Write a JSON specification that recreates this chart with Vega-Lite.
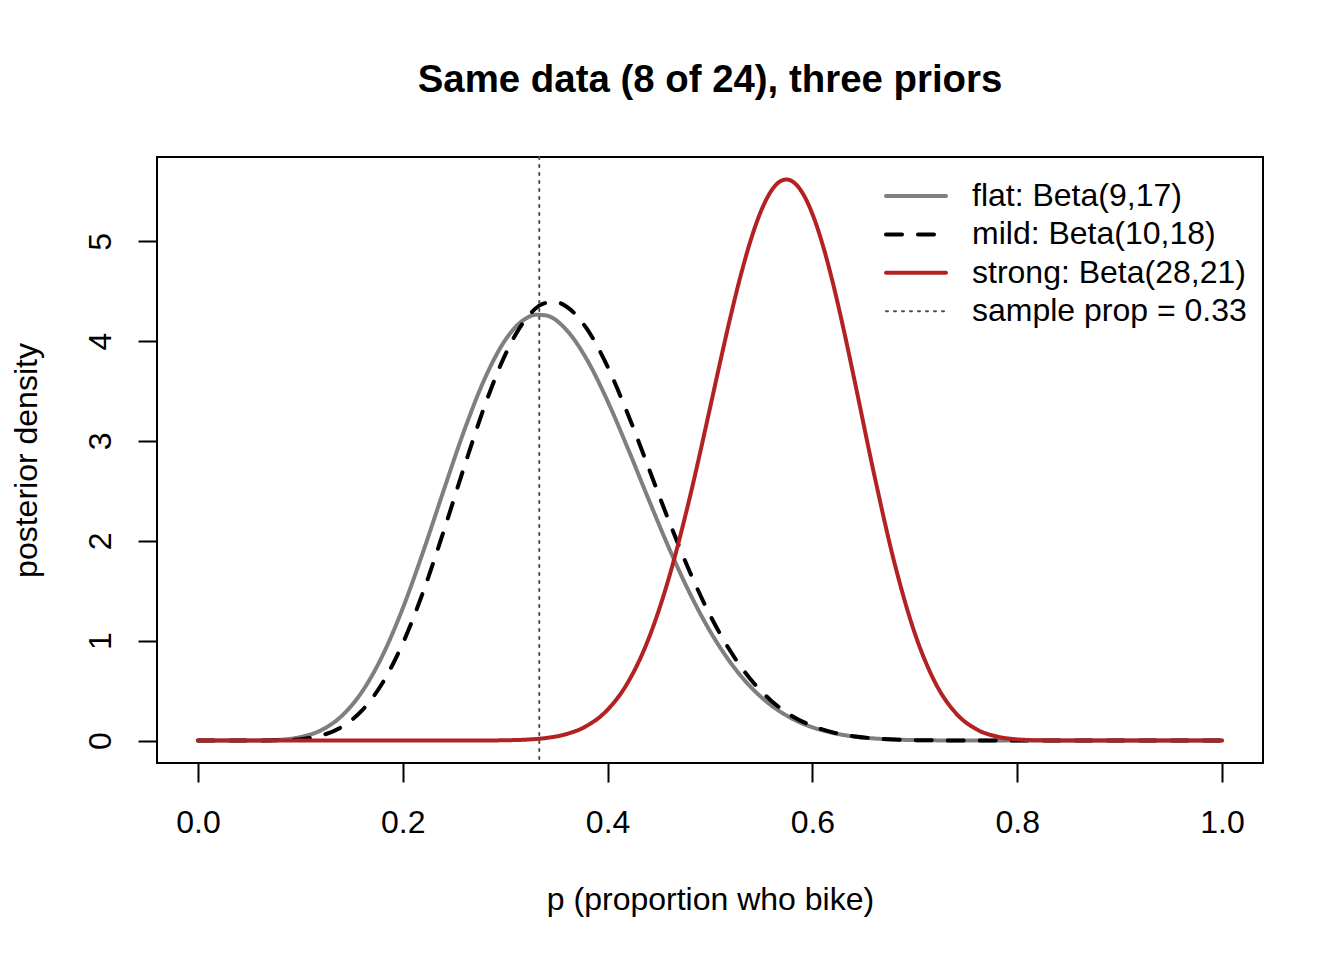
{
  "$schema": "https://vega.github.io/schema/vega-lite/v6.json",
  "width": 1106,
  "height": 606,
  "autosize": {"type": "none"},
  "padding": {"left": 157, "top": 157, "right": 81, "bottom": 197},
  "background": "white",
  "title": {"text": "Same data (8 of 24), three priors", "fontSize": 38.4, "fontWeight": "bold", "font": "Liberation Sans", "color": "black", "anchor": "middle", "frame": "group", "baseline": "alphabetic", "offset": 26},
  "config": {"view": {"stroke": "black", "strokeWidth": 2}, "font": "Liberation Sans"},
  "data": {"values": [
    {"p": 0, "prior": "flat: Beta(9,17)", "d": 0},
    {"p": 0.02, "prior": "flat: Beta(9,17)", "d": 0},
    {"p": 0.04, "prior": "flat: Beta(9,17)", "d": 0.0001},
    {"p": 0.06, "prior": "flat: Beta(9,17)", "d": 0.0012},
    {"p": 0.08, "prior": "flat: Beta(9,17)", "d": 0.0081},
    {"p": 0.10, "prior": "flat: Beta(9,17)", "d": 0.0341},
    {"p": 0.12, "prior": "flat: Beta(9,17)", "d": 0.1023},
    {"p": 0.14, "prior": "flat: Beta(9,17)", "d": 0.2429},
    {"p": 0.16, "prior": "flat: Beta(9,17)", "d": 0.4852},
    {"p": 0.18, "prior": "flat: Beta(9,17)", "d": 0.8467},
    {"p": 0.20, "prior": "flat: Beta(9,17)", "d": 1.3249},
    {"p": 0.22, "prior": "flat: Beta(9,17)", "d": 1.8941},
    {"p": 0.24, "prior": "flat: Beta(9,17)", "d": 2.5073},
    {"p": 0.26, "prior": "flat: Beta(9,17)", "d": 3.1046},
    {"p": 0.28, "prior": "flat: Beta(9,17)", "d": 3.6232},
    {"p": 0.30, "prior": "flat: Beta(9,17)", "d": 4.0091},
    {"p": 0.32, "prior": "flat: Beta(9,17)", "d": 4.2252},
    {"p": 0.33, "prior": "flat: Beta(9,17)", "d": 4.2639},
    {"p": 0.34, "prior": "flat: Beta(9,17)", "d": 4.2563},
    {"p": 0.36, "prior": "flat: Beta(9,17)", "d": 4.1097},
    {"p": 0.38, "prior": "flat: Beta(9,17)", "d": 3.8110},
    {"p": 0.40, "prior": "flat: Beta(9,17)", "d": 3.3994},
    {"p": 0.42, "prior": "flat: Beta(9,17)", "d": 2.9198},
    {"p": 0.44, "prior": "flat: Beta(9,17)", "d": 2.4162},
    {"p": 0.46, "prior": "flat: Beta(9,17)", "d": 1.9269},
    {"p": 0.48, "prior": "flat: Beta(9,17)", "d": 1.4808},
    {"p": 0.50, "prior": "flat: Beta(9,17)", "d": 1.0959},
    {"p": 0.52, "prior": "flat: Beta(9,17)", "d": 0.7805},
    {"p": 0.54, "prior": "flat: Beta(9,17)", "d": 0.5343},
    {"p": 0.56, "prior": "flat: Beta(9,17)", "d": 0.3510},
    {"p": 0.58, "prior": "flat: Beta(9,17)", "d": 0.2208},
    {"p": 0.60, "prior": "flat: Beta(9,17)", "d": 0.1327},
    {"p": 0.62, "prior": "flat: Beta(9,17)", "d": 0.0759},
    {"p": 0.64, "prior": "flat: Beta(9,17)", "d": 0.0412},
    {"p": 0.66, "prior": "flat: Beta(9,17)", "d": 0.0211},
    {"p": 0.68, "prior": "flat: Beta(9,17)", "d": 0.0102},
    {"p": 0.70, "prior": "flat: Beta(9,17)", "d": 0.0046},
    {"p": 0.72, "prior": "flat: Beta(9,17)", "d": 0.0019},
    {"p": 0.74, "prior": "flat: Beta(9,17)", "d": 0.0007},
    {"p": 0.76, "prior": "flat: Beta(9,17)", "d": 0.0002},
    {"p": 0.80, "prior": "flat: Beta(9,17)", "d": 0},
    {"p": 1.0, "prior": "flat: Beta(9,17)", "d": 0},
    {"p": 0, "prior": "mild: Beta(10,18)", "d": 0},
    {"p": 0.02, "prior": "mild: Beta(10,18)", "d": 0},
    {"p": 0.04, "prior": "mild: Beta(10,18)", "d": 0},
    {"p": 0.06, "prior": "mild: Beta(10,18)", "d": 0.0003},
    {"p": 0.08, "prior": "mild: Beta(10,18)", "d": 0.0027},
    {"p": 0.10, "prior": "mild: Beta(10,18)", "d": 0.0141},
    {"p": 0.12, "prior": "mild: Beta(10,18)", "d": 0.0495},
    {"p": 0.14, "prior": "mild: Beta(10,18)", "d": 0.1342},
    {"p": 0.16, "prior": "mild: Beta(10,18)", "d": 0.2992},
    {"p": 0.18, "prior": "mild: Beta(10,18)", "d": 0.5734},
    {"p": 0.20, "prior": "mild: Beta(10,18)", "d": 0.9726},
    {"p": 0.22, "prior": "mild: Beta(10,18)", "d": 1.4913},
    {"p": 0.24, "prior": "mild: Beta(10,18)", "d": 2.0983},
    {"p": 0.26, "prior": "mild: Beta(10,18)", "d": 2.7407},
    {"p": 0.28, "prior": "mild: Beta(10,18)", "d": 3.3514},
    {"p": 0.30, "prior": "mild: Beta(10,18)", "d": 3.8628},
    {"p": 0.32, "prior": "mild: Beta(10,18)", "d": 4.2184},
    {"p": 0.34, "prior": "mild: Beta(10,18)", "d": 4.3822},
    {"p": 0.35, "prior": "mild: Beta(10,18)", "d": 4.3882},
    {"p": 0.36, "prior": "mild: Beta(10,18)", "d": 4.3443},
    {"p": 0.38, "prior": "mild: Beta(10,18)", "d": 4.1196},
    {"p": 0.40, "prior": "mild: Beta(10,18)", "d": 3.7433},
    {"p": 0.42, "prior": "mild: Beta(10,18)", "d": 3.2634},
    {"p": 0.44, "prior": "mild: Beta(10,18)", "d": 2.7317},
    {"p": 0.46, "prior": "mild: Beta(10,18)", "d": 2.1961},
    {"p": 0.48, "prior": "mild: Beta(10,18)", "d": 1.6959},
    {"p": 0.50, "prior": "mild: Beta(10,18)", "d": 1.2571},
    {"p": 0.52, "prior": "mild: Beta(10,18)", "d": 0.8939},
    {"p": 0.54, "prior": "mild: Beta(10,18)", "d": 0.6089},
    {"p": 0.56, "prior": "mild: Beta(10,18)", "d": 0.3968},
    {"p": 0.58, "prior": "mild: Beta(10,18)", "d": 0.2467},
    {"p": 0.60, "prior": "mild: Beta(10,18)", "d": 0.1461},
    {"p": 0.62, "prior": "mild: Beta(10,18)", "d": 0.0820},
    {"p": 0.64, "prior": "mild: Beta(10,18)", "d": 0.0435},
    {"p": 0.66, "prior": "mild: Beta(10,18)", "d": 0.0217},
    {"p": 0.68, "prior": "mild: Beta(10,18)", "d": 0.0101},
    {"p": 0.70, "prior": "mild: Beta(10,18)", "d": 0.0044},
    {"p": 0.72, "prior": "mild: Beta(10,18)", "d": 0.0018},
    {"p": 0.74, "prior": "mild: Beta(10,18)", "d": 0.0006},
    {"p": 0.76, "prior": "mild: Beta(10,18)", "d": 0.0002},
    {"p": 0.80, "prior": "mild: Beta(10,18)", "d": 0},
    {"p": 1.0, "prior": "mild: Beta(10,18)", "d": 0},
    {"p": 0, "prior": "strong: Beta(28,21)", "d": 0},
    {"p": 0.24, "prior": "strong: Beta(28,21)", "d": 0},
    {"p": 0.26, "prior": "strong: Beta(28,21)", "d": 0.0002},
    {"p": 0.28, "prior": "strong: Beta(28,21)", "d": 0.0008},
    {"p": 0.30, "prior": "strong: Beta(28,21)", "d": 0.0029},
    {"p": 0.32, "prior": "strong: Beta(28,21)", "d": 0.0091},
    {"p": 0.34, "prior": "strong: Beta(28,21)", "d": 0.0258},
    {"p": 0.36, "prior": "strong: Beta(28,21)", "d": 0.0653},
    {"p": 0.38, "prior": "strong: Beta(28,21)", "d": 0.1489},
    {"p": 0.40, "prior": "strong: Beta(28,21)", "d": 0.3086},
    {"p": 0.42, "prior": "strong: Beta(28,21)", "d": 0.5849},
    {"p": 0.44, "prior": "strong: Beta(28,21)", "d": 1.0181},
    {"p": 0.46, "prior": "strong: Beta(28,21)", "d": 1.6336},
    {"p": 0.48, "prior": "strong: Beta(28,21)", "d": 2.4232},
    {"p": 0.50, "prior": "strong: Beta(28,21)", "d": 3.3296},
    {"p": 0.51, "prior": "strong: Beta(28,21)", "d": 3.7941},
    {"p": 0.52, "prior": "strong: Beta(28,21)", "d": 4.2435},
    {"p": 0.53, "prior": "strong: Beta(28,21)", "d": 4.6581},
    {"p": 0.54, "prior": "strong: Beta(28,21)", "d": 5.0187},
    {"p": 0.55, "prior": "strong: Beta(28,21)", "d": 5.3069},
    {"p": 0.56, "prior": "strong: Beta(28,21)", "d": 5.5072},
    {"p": 0.57, "prior": "strong: Beta(28,21)", "d": 5.6078},
    {"p": 0.575, "prior": "strong: Beta(28,21)", "d": 5.6184},
    {"p": 0.58, "prior": "strong: Beta(28,21)", "d": 5.6019},
    {"p": 0.59, "prior": "strong: Beta(28,21)", "d": 5.4888},
    {"p": 0.60, "prior": "strong: Beta(28,21)", "d": 5.2732},
    {"p": 0.61, "prior": "strong: Beta(28,21)", "d": 4.9659},
    {"p": 0.62, "prior": "strong: Beta(28,21)", "d": 4.5819},
    {"p": 0.63, "prior": "strong: Beta(28,21)", "d": 4.1404},
    {"p": 0.64, "prior": "strong: Beta(28,21)", "d": 3.6619},
    {"p": 0.66, "prior": "strong: Beta(28,21)", "d": 2.6796},
    {"p": 0.68, "prior": "strong: Beta(28,21)", "d": 1.7846},
    {"p": 0.70, "prior": "strong: Beta(28,21)", "d": 1.0737},
    {"p": 0.72, "prior": "strong: Beta(28,21)", "d": 0.5780},
    {"p": 0.74, "prior": "strong: Beta(28,21)", "d": 0.2751},
    {"p": 0.76, "prior": "strong: Beta(28,21)", "d": 0.1140},
    {"p": 0.78, "prior": "strong: Beta(28,21)", "d": 0.0404},
    {"p": 0.80, "prior": "strong: Beta(28,21)", "d": 0.0119},
    {"p": 0.82, "prior": "strong: Beta(28,21)", "d": 0.0028},
    {"p": 0.84, "prior": "strong: Beta(28,21)", "d": 0.0005},
    {"p": 0.86, "prior": "strong: Beta(28,21)", "d": 0},
    {"p": 1.0, "prior": "strong: Beta(28,21)", "d": 0}
  ]},
  "layer": [
    {
      "mark": {"type": "line", "strokeWidth": 4, "strokeCap": "round", "strokeJoin": "round", "interpolate": "monotone"},
      "encoding": {
        "x": {"field": "p", "type": "quantitative",
          "scale": {"domain": [-0.04, 1.04], "nice": false, "zero": false},
          "axis": {"values": [0, 0.2, 0.4, 0.6, 0.8, 1], "format": ".1f", "title": "p (proportion who bike)", "grid": false, "domain": false, "tickColor": "black", "tickWidth": 2, "tickSize": 19, "labelFontSize": 32, "labelFont": "Liberation Sans", "labelColor": "black", "labelPadding": 25, "labelFlush": false, "labelOverlap": false, "titleFontSize": 32, "titleFont": "Liberation Sans", "titleFontWeight": "normal", "titleColor": "black", "titleBaseline": "alphabetic", "titleY": 146}},
        "y": {"field": "d", "type": "quantitative",
          "scale": {"domain": [-0.2247, 5.8435], "nice": false, "zero": false},
          "axis": {"values": [0, 1, 2, 3, 4, 5], "format": "d", "title": "posterior density", "grid": false, "domain": false, "tickColor": "black", "tickWidth": 2, "tickSize": 19, "labelFontSize": 32, "labelFont": "Liberation Sans", "labelColor": "black", "labelAngle": 270, "labelAlign": "center", "labelBaseline": "alphabetic", "labelPadding": 28, "labelOverlap": false, "titleFontSize": 32, "titleFont": "Liberation Sans", "titleFontWeight": "normal", "titleColor": "black", "titleAngle": 270, "titleAlign": "center", "titleBaseline": "alphabetic", "titleX": -121, "titleY": 303}},
        "color": {"field": "prior", "type": "nominal",
          "scale": {"domain": ["flat: Beta(9,17)", "mild: Beta(10,18)", "strong: Beta(28,21)", "sample prop = 0.33"], "range": ["#7f7f7f", "#000000", "#b22222", "#4d4d4d"]},
          "legend": {"title": null, "orient": "none", "legendX": 743, "legendY": 23, "padding": 0, "symbolType": "M-2.5,0H2.5", "symbolSize": 576, "symbolStrokeWidth": 4, "labelFontSize": 32, "labelFont": "Liberation Sans", "labelColor": "black", "labelOffset": 40, "labelLimit": 0, "rowPadding": 6.4,
            "encode": {"symbols": {"update": {"strokeWidth": {"signal": "datum.value === 'sample prop = 0.33' ? 2 : 4"}, "strokeCap": {"value": "round"}}}}}},
        "strokeDash": {"field": "prior", "type": "nominal",
          "scale": {"domain": ["flat: Beta(9,17)", "mild: Beta(10,18)", "strong: Beta(28,21)", "sample prop = 0.33"], "range": [[1, 0], [16, 16], [1, 0], [2, 6]]}}
      }
    },
    {
      "data": {"values": [{"p": 0.3333, "prior": "sample prop = 0.33"}]},
      "mark": {"type": "rule", "strokeWidth": 2, "strokeCap": "round"},
      "encoding": {
        "x": {"field": "p", "type": "quantitative"},
        "color": {"field": "prior", "type": "nominal"},
        "strokeDash": {"field": "prior", "type": "nominal"}
      }
    }
  ]
}
